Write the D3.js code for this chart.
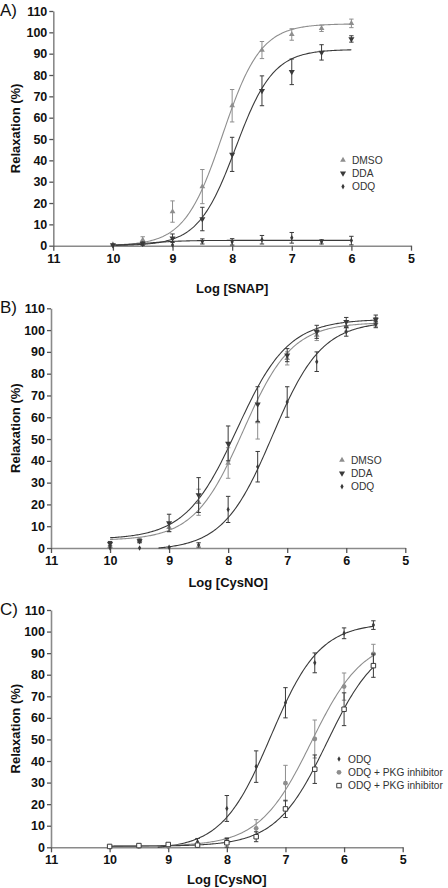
<!DOCTYPE html>
<html>
<head>
<meta charset="utf-8">
<script src="https://cdn.jsdelivr.net/npm/d3@7"></script>
<style>
  html, body { margin: 0; padding: 0; background: #fff; }
  svg { display: block; }
</style>
</head>
<body>
<svg id="chart" width="448" height="888"></svg>
<script>
// ---------- DATA ----------
const xTickValues = [11, 10, 9, 8, 7, 6, 5];
const yTickValues = [0, 10, 20, 30, 40, 50, 60, 70, 80, 90, 100, 110];

// Panel A : Log [SNAP]
const logA = [10, 9.5, 9, 8.5, 8, 7.5, 7, 6.5, 6];
const aDMSO = [0.5, 2.7, 16, 27.7, 65.6, 91.7, 99, 101.9, 104.2];
const aDMSOErr = [0.5, 1.5, 5, 8, 7.6, 4, 2.7, 1.5, 2];
const aDDA = [0.3, 1.0, 3.5, 12.5, 42.8, 72.6, 81.5, 90.6, 96.9];
const aDDAErr = [0.3, 0.8, 2, 5.5, 8, 7, 6, 3.6, 1.5];
const aODQ = [0.2, 0.8, 0.3, 2.0, 1.8, 2.8, 3.7, 1.8, 2.4];
const aODQErr = [0.3, 0.5, 0.5, 1.2, 1.5, 2, 2.5, 1, 2];
// fit parameters [bottom, top, pEC50, hill]
const aFitDMSO = [0, 104, 8.16, 1.36];
const aFitDDA = [0, 92, 7.94, 1.38];
const aFitODQ = [0, 2.5, 9.4, 1.5];

// Panel B : Log [CysNO]
const logB = [10, 9.5, 9, 8.5, 8, 7.5, 7, 6.5, 6, 5.5];
const bDMSO = [0.8, 3.5, 9.5, 21, 39, 58, 87, 97.7, 101.5, 103.8];
const bDMSOErr = [1.5, 1, 2, 6, 7, 8, 3, 2.5, 2, 2];
const bDDA = [2, 3.2, 11.5, 24.3, 48, 66, 88.5, 99.2, 103.8, 104.9];
const bDDAErr = [1, 0.8, 4, 8, 8, 8, 3, 3, 2, 2];
const bODQ = [0, 0, 0.3, 1.4, 17.7, 37.3, 67, 85.5, 99.2, 102.6];
const bODQErr = [0, 0, 0.3, 1, 6, 7, 7, 4.5, 2, 1.5];
const bFitDMSO = [3.5, 103.5, 7.75, 1.05];
const bFitDDA = [4, 105, 7.85, 1.0];
const bFitODQ = [-1, 104, 7.25, 1.04];

// Panel C : Log [CysNO]
const logC = [10, 9.5, 9, 8.5, 8, 7.5, 7, 6.5, 6, 5.5];
const cODQ = [0.3, 0.5, 0.3, 2.6, 18, 37.4, 67, 85.5, 99.2, 103];
const cODQErr = [0.3, 0.3, 0.3, 1.5, 6, 7.3, 7, 4.6, 2.5, 2];
const cPKG1 = [0.3, 0.5, 0.5, 0.8, 3, 8.8, 29.7, 50.2, 74.5, 89.6];
const cPKG1Err = [0.3, 0.3, 0.3, 0.5, 1.5, 4, 8.3, 8.8, 6.3, 4.5];
const cPKG2 = [0.4, 0.8, 1.3, 1.0, 2.1, 4.9, 17.8, 36.2, 64, 84.2];
const cPKG2Err = [0.3, 0.5, 0.5, 0.5, 2, 2.3, 4, 6.6, 7.6, 5.4];
const cFitODQ = [-1, 104, 7.25, 1.04];
const cFitPKG1 = [0.5, 97, 6.56, 0.98];
const cFitPKG2 = [0.5, 97, 6.29, 1.0];

const panelLabels = ["A)", "B)", "C)"];
const xTitles = ["Log [SNAP]", "Log [CysNO]", "Log [CysNO]"];
const yTitle = "Relaxation (%)";
const legendA = ["DMSO", "DDA", "ODQ"];
const legendB = ["DMSO", "DDA", "ODQ"];
const legendC = ["ODQ", "ODQ + PKG inhibitor", "ODQ + PKG inhibitor"];

// ---------- STYLE ----------
const FONT = "'Liberation Sans', Arial, Helvetica, sans-serif";
const LIGHT = "#8e8e8e";
const DARK = "#3a3a3a";
const AXIS = "#8a8a8a";

const styles = {
  triUp:   { shape: "triUp",   color: LIGHT },
  triDown: { shape: "triDown", color: DARK },
  diamond: { shape: "diamond", color: DARK },
  circle:  { shape: "circle",  color: LIGHT },
  square:  { shape: "square",  color: DARK }
};

const panels = [
  {
    label: panelLabels[0], xTitle: xTitles[0], xRange: [53.3, 411], yRange: [245.7, 11],
    curveDomain: [10, 6], titleY: 293, labelY: 16,
    legendX: 343, legendY: 160, legend: legendA,
    series: [
      { logs: logA, vals: aDMSO, errs: aDMSOErr, fit: aFitDMSO, st: styles.triUp },
      { logs: logA, vals: aDDA, errs: aDDAErr, fit: aFitDDA, st: styles.triDown },
      { logs: logA, vals: aODQ, errs: aODQErr, fit: aFitODQ, st: styles.diamond }
    ]
  },
  {
    label: panelLabels[1], xTitle: xTitles[1], xRange: [51, 405.3], yRange: [548, 308.3],
    curveDomain: [10, 5.5], titleY: 587, labelY: 313,
    legendX: 342, legendY: 460, legend: legendB,
    series: [
      { logs: logB, vals: bDMSO, errs: bDMSOErr, fit: bFitDMSO, st: styles.triUp },
      { logs: logB, vals: bDDA, errs: bDDAErr, fit: bFitDDA, st: styles.triDown },
      { logs: logB, vals: bODQ, errs: bODQErr, fit: bFitODQ, st: styles.diamond }
    ]
  },
  {
    label: panelLabels[2], xTitle: xTitles[2], xRange: [51, 402.7], yRange: [847.3, 610],
    curveDomain: [10, 5.5], titleY: 884, labelY: 615,
    legendX: 339, legendY: 759, legend: legendC,
    series: [
      { logs: logC, vals: cODQ, errs: cODQErr, fit: cFitODQ, st: styles.diamond },
      { logs: logC, vals: cPKG1, errs: cPKG1Err, fit: cFitPKG1, st: styles.circle },
      { logs: logC, vals: cPKG2, errs: cPKG2Err, fit: cFitPKG2, st: styles.square }
    ]
  }
];

const svg = d3.select("#chart");

function hill(p, L) {
  const [b, t, pec, h] = p;
  return b + (t - b) / (1 + Math.pow(10, h * (L - pec)));
}

function drawMarker(g, st, cx, cy) {
  const c = st.color;
  if (st.shape === "triUp") {
    g.append("path").attr("d", d3.symbol().type(d3.symbolTriangle).size(14)())
      .attr("transform", `translate(${cx},${cy})`).attr("fill", c);
  } else if (st.shape === "triDown") {
    g.append("path").attr("d", d3.symbol().type(d3.symbolTriangle).size(16)())
      .attr("transform", `translate(${cx},${cy}) rotate(180)`).attr("fill", c);
  } else if (st.shape === "diamond") {
    g.append("path").attr("d", d3.symbol().type(d3.symbolDiamond).size(9)())
      .attr("transform", `translate(${cx},${cy})`).attr("fill", c);
  } else if (st.shape === "circle") {
    g.append("path").attr("d", d3.symbol().type(d3.symbolCircle).size(18)())
      .attr("transform", `translate(${cx},${cy})`).attr("fill", c);
  } else if (st.shape === "square") {
    g.append("path").attr("d", d3.symbol().type(d3.symbolSquare).size(20)())
      .attr("transform", `translate(${cx},${cy})`).attr("fill", "#fff")
      .attr("stroke", c).attr("stroke-width", 1);
  }
}

panels.forEach(P => {
  const x = d3.scaleLinear().domain([11, 5]).range(P.xRange);
  const y = d3.scaleLinear().domain([0, 110]).range(P.yRange);
  const g = svg.append("g");

  // axes
  const yAxis = d3.axisLeft(y).tickValues(yTickValues).tickFormat(d3.format("d"))
    .tickSize(4).tickSizeOuter(0).tickPadding(2);
  const gy = g.append("g").attr("transform", `translate(${P.xRange[0]},0)`).call(yAxis);
  const xAxis = d3.axisBottom(x).tickValues(xTickValues).tickFormat(d3.format("d"))
    .tickSize(5).tickSizeOuter(0).tickPadding(3);
  const gx = g.append("g").attr("transform", `translate(0,${P.yRange[0]})`).call(xAxis);
  [gx, gy].forEach(a => {
    a.select(".domain").attr("stroke", AXIS).attr("stroke-width", 1.6);
    a.selectAll(".tick line").attr("stroke", "#555").attr("stroke-width", 1.3);
    a.selectAll(".tick text").attr("fill", "#111").attr("font-family", FONT)
      .attr("font-weight", "bold").attr("font-size", "12.5px");
  });

  // titles
  g.append("text").attr("x", (P.xRange[0] + P.xRange[1]) / 2).attr("y", P.titleY)
    .attr("text-anchor", "middle").attr("font-family", FONT).attr("font-weight", "bold")
    .attr("font-size", "13px").attr("fill", "#111").text(P.xTitle);
  const yMid = (P.yRange[0] + P.yRange[1]) / 2;
  g.append("text").attr("transform", `translate(20,${yMid}) rotate(-90)`)
    .attr("text-anchor", "middle").attr("font-family", FONT).attr("font-weight", "bold")
    .attr("font-size", "13px").attr("fill", "#111").text(yTitle);
  g.append("text").attr("x", 0).attr("y", P.labelY)
    .attr("font-family", FONT).attr("font-size", "17px").attr("fill", "#111").text(P.label);

  // curves
  const line = d3.line().x(d => x(d[0])).y(d => y(d[1])).defined(d => d[1] >= 0);
  P.series.forEach(s => {
    const pts = d3.range(P.curveDomain[0], P.curveDomain[1] - 0.001, -0.02)
      .concat([P.curveDomain[1]]).map(L => [L, hill(s.fit, L)]);
    g.append("path").datum(pts).attr("d", line).attr("fill", "none")
      .attr("stroke", s.st.color).attr("stroke-width", 1.1);
  });

  // error bars + markers
  P.series.forEach(s => {
    const eg = g.append("g");
    s.logs.forEach((L, i) => {
      const cx = x(L), v = s.vals[i], e = s.errs[i];
      const y1 = y(Math.max(0, v - e)), y2 = y(v + e);
      if (e > 0.6) {
        eg.append("line").attr("x1", cx).attr("x2", cx).attr("y1", y1).attr("y2", y2)
          .attr("stroke", s.st.color).attr("stroke-width", 1);
        [y1, y2].forEach(yy => eg.append("line").attr("x1", cx - 2.2).attr("x2", cx + 2.2)
          .attr("y1", yy).attr("y2", yy).attr("stroke", s.st.color).attr("stroke-width", 1));
      }
      drawMarker(eg, s.st, cx, y(v));
    });
  });

  // legend
  P.series.forEach((s, i) => {
    const ly = P.legendY + i * 13.3;
    drawMarker(g, s.st, P.legendX, ly);
    g.append("text").attr("x", P.legendX + 9).attr("y", ly).attr("dy", "0.35em")
      .attr("font-family", FONT).attr("font-size", "10.2px").attr("fill", "#333")
      .text(P.legend[i]);
  });
});
</script>
</body>
</html>
